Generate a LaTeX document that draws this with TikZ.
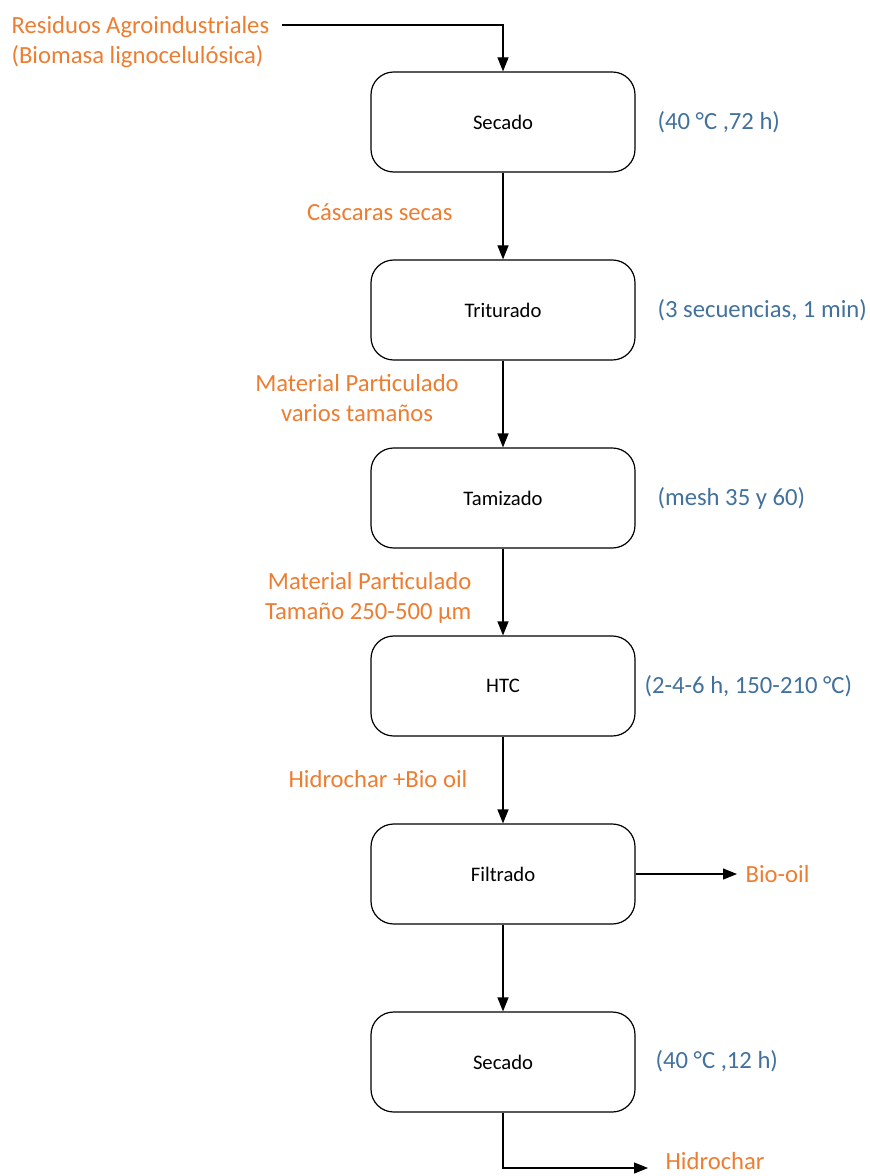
\documentclass[tikz,border=0pt]{standalone}
\usepackage{fontspec}
\setmainfont{Carlito}
\usetikzlibrary{arrows.meta}
\definecolor{naranja}{HTML}{ED7D31}
\definecolor{azul}{HTML}{41719C}
\tikzset{
  proceso/.style={draw, rounded corners=17pt, minimum width=198pt, minimum height=75pt,
    font=\fontsize{15.5pt}{18pt}\selectfont},
  flujo/.style={text=naranja, inner sep=0pt, font=\fontsize{18.5pt}{22.5pt}\selectfont},
  cond/.style={text=azul, inner sep=0pt, anchor=west, font=\fontsize{18.5pt}{22.5pt}\selectfont}
}
\begin{document}
\begin{tikzpicture}[x=0.75pt, y=-0.75pt, line width=0.9pt,
    >={Triangle[length=10.5pt,width=8.25pt]}]
      \useasboundingbox (0,0) rectangle (869,1176);
      \draw
        (503,122) node[proceso] (1){Secado}
        (503,310) node[proceso] (2){Triturado}
        (503,498) node[proceso] (3){Tamizado}
        (503,686) node[proceso] (4){HTC}
        (503,874) node[proceso] (5){Filtrado}
        (503,1062) node[proceso] (6){Secado};
      % corrientes
      \draw
        (11,42) node[flujo, anchor=west, align=left] (res){Residuos Agroindustriales\\(Biomasa lignocelulósica)}
        (453,212) node[flujo, anchor=east] (cas){Cáscaras secas}
        (357,398) node[flujo, align=center] (mp1){Material Particulado\\varios tamaños}
        (472,598) node[flujo, anchor=east, align=right] (mp2){Material Particulado\\Tamaño 250-500 µm}
        (468,779) node[flujo, anchor=east] (hbo){Hidrochar +Bio oil}
        (745,874) node[flujo, anchor=west] (bio){Bio-oil}
        (665,1169) node[flujo, anchor=base west] (hid){Hidrochar};
      % condiciones
      \draw
        (657,122) node[cond] (c1){(40 °C ,72 h)}
        (657,310) node[cond] (c2){(3 secuencias, 1 min)}
        (657,498) node[cond] (c3){(mesh 35 y 60)}
        (644,686) node[cond] (c4){(2-4-6 h, 150-210 °C)}
        (655,1061) node[cond] (c6){(40 °C ,12 h)};
      \coordinate (ini) at (282,25);
      \coordinate (bo) at (737,874);
      \coordinate (hc) at (648,1168);
      \begin{scope}[->]
        \draw (ini) -| (1);
        \draw (1) to (2);
        \draw (2) to (3);
        \draw (3) to (4);
        \draw (4) to (5);
        \draw (5) to (6);
        \draw (5) to (bo);
        \draw (6) |- (hc);
      \end{scope}
    \end{tikzpicture}
\end{document}
